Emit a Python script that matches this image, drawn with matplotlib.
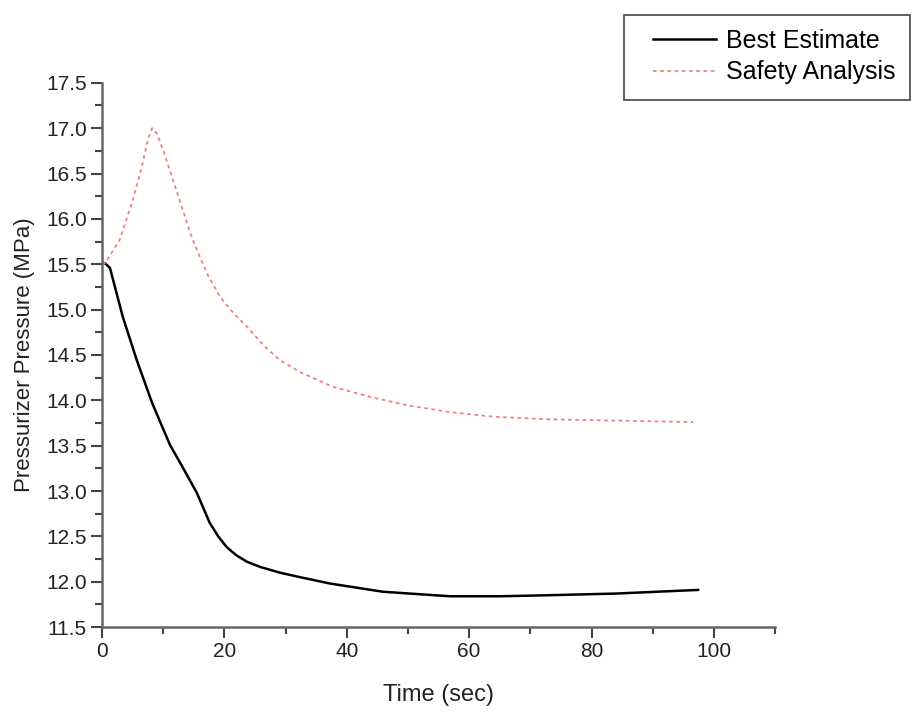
import numpy as np
import matplotlib.pyplot as plt
from matplotlib.ticker import MultipleLocator
from matplotlib.patches import Rectangle

plt.rcParams['font.family'] = ['Liberation Sans', 'DejaVu Sans']

# Best Estimate (black solid)
t_best = [0, 0.5, 1.3, 3.4, 5.7, 8.2, 11.1, 13.2, 15.5, 17.6, 19.0, 20.4, 22.0, 23.7,
          26.0, 29.1, 32.4, 37.3, 45.9, 56.9, 65.0, 72.0, 84.0, 97.4]
p_best = [15.52, 15.51, 15.46, 14.92, 14.44, 13.97, 13.51, 13.26, 12.98, 12.65, 12.50,
          12.38, 12.29, 12.22, 12.16, 12.10, 12.05, 11.98, 11.89, 11.84, 11.84, 11.85,
          11.87, 11.91]

# Safety Analysis (red dotted)
t_safe = [0, 0.5, 2.9, 5.0, 6.5, 7.5, 8.2, 9.0, 10.2, 11.6, 14.4, 15.5, 17.3, 19.3,
          21.5, 23.7, 26.5, 29.1, 32.4, 37.7, 44.3, 50.3, 56.9, 63.9, 73.2, 81.4, 96.6]
p_safe = [15.52, 15.51, 15.77, 16.20, 16.57, 16.88, 17.0, 16.94, 16.72, 16.43, 15.85,
          15.66, 15.38, 15.14, 14.96, 14.81, 14.60, 14.44, 14.31, 14.15, 14.03, 13.94,
          13.87, 13.82, 13.79, 13.78, 13.76]

fig = plt.figure(figsize=(9.13, 7.2), dpi=100)
ax = fig.add_axes([0.1117, 0.129, 0.849 - 0.1117, 0.885 - 0.129])

ax.plot(t_best, p_best, color='black', lw=1.8, label='Best Estimate')
ax.plot(t_safe, p_safe, color='#f08080', lw=1.3, linestyle=(0, (2, 2)), label='Safety Analysis')

ax.set_xlim(0, 110)
ax.set_ylim(11.5, 17.5)
ax.xaxis.set_major_locator(MultipleLocator(20))
ax.xaxis.set_minor_locator(MultipleLocator(10))
ax.yaxis.set_major_locator(MultipleLocator(0.5))
ax.yaxis.set_minor_locator(MultipleLocator(0.25))
ax.yaxis.set_major_formatter(plt.FormatStrFormatter('%.1f'))

for s in ['top', 'right']:
    ax.spines[s].set_visible(False)
for s in ['left', 'bottom']:
    ax.spines[s].set_color('#666666')
    ax.spines[s].set_linewidth(1.8)

ax.tick_params(which='major', direction='out', length=8, width=1.5, color='#444444',
               labelsize=15, labelcolor='#222222', pad=3)
ax.tick_params(which='minor', direction='out', length=5, width=1.5, color='#444444')

ax.set_xlabel('Time (sec)', fontsize=17, color='#222222', labelpad=16)
ax.set_ylabel('Pressurizer Pressure (MPa)', fontsize=16, color='#222222', labelpad=8)

# legend box drawn by hand so the padding matches
fig.patches.append(Rectangle((624 / 913, 1 - 100 / 720), 286 / 913, 85 / 720,
                             transform=fig.transFigure, fill=False,
                             edgecolor='#444444', lw=1.2))
leg = fig.legend(loc='upper left', bbox_to_anchor=(653 / 913, 1 - 29 / 720),
                 fontsize=18, frameon=False, handlelength=2.5, handletextpad=0.4,
                 borderpad=0, labelspacing=0.3, borderaxespad=0)

fig.savefig('out.png', dpi=100)
